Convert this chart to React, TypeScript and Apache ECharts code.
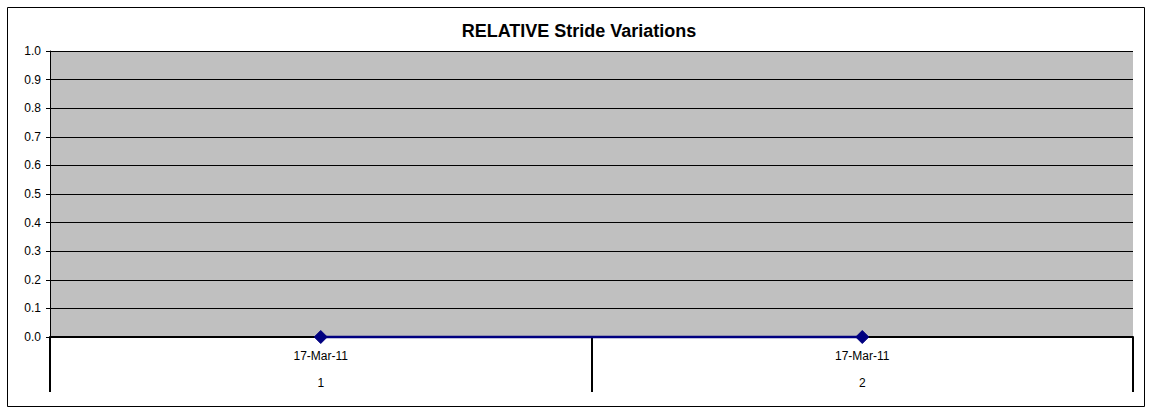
import React, { useEffect, useRef } from "react";
import * as echarts from "echarts";

const dateLabels = ["17-Mar-11", "17-Mar-11"];
const indexLabels = ["1", "2"];
const strideValues = [0, 0];
const chartTitle = "RELATIVE Stride Variations";

export default function App() {
  const ref = useRef<HTMLDivElement>(null);
  useEffect(() => {
    document.body.style.margin = "0";
    const chart = echarts.init(ref.current!, null, { renderer: "svg" });
    const font = "'Liberation Sans', Arial, sans-serif";
    chart.setOption({
      animation: false,
      backgroundColor: "#ffffff",
      title: {
        text: chartTitle,
        left: 574,
        textAlign: "center",
        top: 17,
        textStyle: { fontFamily: font, fontSize: 18, fontWeight: "bold", color: "#000" },
      },
      graphic: [
        {
          type: "rect",
          shape: { x: 7.5, y: 7.5, width: 1137, height: 399 },
          style: { fill: "none", stroke: "#000", lineWidth: 1 },
          silent: true,
        },
      ],
      grid: {
        left: 50,
        right: 19,
        top: 51,
        bottom: 77,
        show: true,
        backgroundColor: "#C0C0C0",
        borderWidth: 0,
      },
      xAxis: {
        type: "category",
        data: indexLabels,
        boundaryGap: true,
        axisLine: { show: true, lineStyle: { color: "#000", width: 2 } },
        axisTick: { show: true, length: 55, lineStyle: { color: "#000", width: 2 } },
        axisLabel: {
          margin: 5,
          fontFamily: font,
          fontSize: 12,
          color: "#000",
          formatter: (v: string, i: number) => `{a|${dateLabels[i]}}\n{b|${v}}`,
          rich: {
            a: { fontFamily: font, fontSize: 12, color: "#000", lineHeight: 27 },
            b: { fontFamily: font, fontSize: 12, color: "#000", lineHeight: 27 },
          },
        },
        splitLine: { show: false },
      },
      yAxis: {
        type: "value",
        min: 0,
        max: 1,
        interval: 0.1,
        axisLine: { show: true, lineStyle: { color: "#000", width: 1 } },
        axisTick: { show: true, length: 4, lineStyle: { color: "#000" } },
        axisLabel: {
          margin: 9,
          fontFamily: font,
          fontSize: 12,
          color: "#000",
          formatter: (v: number) => v.toFixed(1),
        },
        splitLine: { show: true, lineStyle: { color: "#000", width: 1 } },
      },
      series: [
        {
          type: "line",
          data: strideValues,
          clip: false,
          symbol: "diamond",
          symbolSize: 13,
          showAllSymbol: true,
          lineStyle: { color: "#000080", width: 2.5 },
          itemStyle: { color: "#000080", borderColor: "#000080" },
          z: 5,
        },
      ],
    });
    return () => chart.dispose();
  }, []);
  return <div ref={ref} style={{ width: 1152, height: 414 }} />;
}
